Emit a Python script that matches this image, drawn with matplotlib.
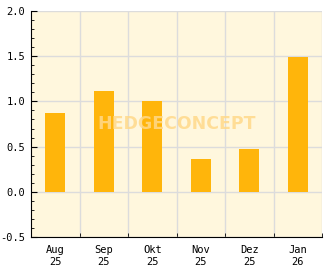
import matplotlib
matplotlib.use('Agg')
import matplotlib.pyplot as plt
from matplotlib.ticker import MultipleLocator
import numpy as np

months = ['Aug\n25', 'Sep\n25', 'Okt\n25', 'Nov\n25', 'Dez\n25', 'Jan\n26']
values = [0.87, 1.12, 1.00, 0.36, 0.47, 1.49]

plt.rcParams['font.family'] = 'DejaVu Sans Mono'
plt.rcParams['font.size'] = 7.5

fig = plt.figure(figsize=(3.32, 2.69), dpi=100)
ax = fig.add_axes([31/332, 1-237/269, 291/332, 226/269])
ax.set_facecolor('#fff7dd')

x = np.arange(len(months))
ax.bar(x, values, width=0.41, color='#ffb50b', zorder=3)

ax.set_xlim(-0.5, 5.5)
ax.set_ylim(-0.5, 2.0)
ax.set_xticks(x)
ax.set_xticklabels(months)
ax.set_xticks(np.arange(0.5, 6, 1), minor=True)
ax.tick_params(axis='x', which='major', length=0, pad=6)
ax.tick_params(axis='x', which='minor', direction='in', length=3, color='black')
ax.yaxis.set_major_locator(MultipleLocator(0.5))
ax.yaxis.set_minor_locator(MultipleLocator(0.1))
ax.yaxis.set_major_formatter(matplotlib.ticker.FormatStrFormatter('%.1f'))
ax.tick_params(axis='y', which='major', direction='in', length=4, pad=4)
ax.tick_params(axis='y', which='minor', direction='in', length=2)

ax.grid(axis='y', which='major', color='#dcdcdc', linewidth=1, zorder=1)
ax.grid(axis='x', which='minor', color='#dcdcdc', linewidth=1, zorder=1)
ax.spines['top'].set_visible(False)
ax.spines['right'].set_visible(False)

# watermark
ax.text(0.5, 0.5, 'HEDGECONCEPT', transform=ax.transAxes, ha='center', va='center',
        fontsize=12.5, fontweight='bold', family='DejaVu Sans', color='#ffd98a',
        alpha=0.85, zorder=4)

fig.savefig('out.png', dpi=100)
